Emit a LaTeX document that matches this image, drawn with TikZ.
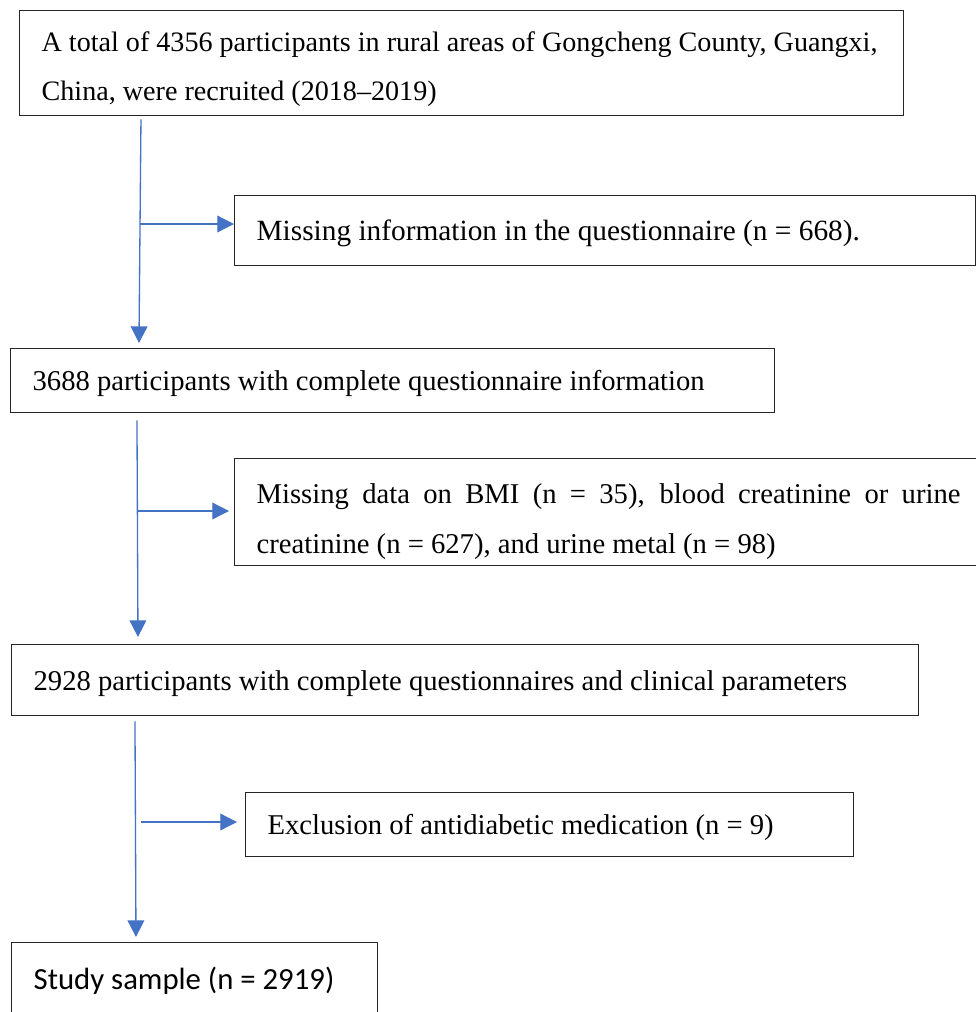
\documentclass[tikz,border=0pt]{standalone}
\usepackage{fontspec}
\setmainfont{Liberation Serif}
\newfontfamily\carlito{Carlito}
\usepackage{tikz}
\usetikzlibrary{arrows.meta}
\definecolor{wordblue}{HTML}{4472C4}
\tikzset{
	stepbox/.style={draw=black!85, line width=0.75pt, rectangle, anchor=north west, align=flush left, inner xsep=0.44cm, inner ysep=0pt, font=\fontsize{16.3}{28}\selectfont},
	onebox/.style={stepbox, text depth=0pt},
	flow/.style={draw=wordblue, line width=0.75pt, -{Triangle[length=9.5pt,width=9.5pt]}}
}

\begin{document}
\begin{tikzpicture}[x=0.02cm, y=-0.02cm]
		%%%%% START %%%%%
		\useasboundingbox[fill=white] (0, 0) rectangle (976, 1012);
		
		\node[stepbox, text width=16.8cm, minimum height=2.1cm, font=\fontsize{16}{28}\selectfont] (start) at (19, 10) {\rule{0pt}{18pt}A total of 4356 participants in rural areas of Gongcheng County, Guangxi,\\China, were recruited (2018--2019)};
		\node[onebox, text width=13.94cm, minimum height=1.4cm, font=\fontsize{16.7}{28}\selectfont] (qmissing) at (234, 195) {Missing information in the questionnaire (n = 668).};
		\node[onebox, text width=14.4cm, minimum height=1.28cm] (qcomplete) at (10, 348) {3688 participants with complete questionnaire information};
		\node[stepbox, text width=14.08cm, minimum height=2.14cm, align=justify] (missdata) at (234, 458) {\rule{0pt}{22pt}Missing data on BMI (n = 35), blood creatinine or urine\linebreak creatinine (n = 627), and urine metal (n = 98)};
		\node[onebox, text width=17.26cm, minimum height=1.42cm] (clinical) at (11, 644) {2928 participants with complete questionnaires and clinical parameters};
		\node[onebox, text width=11.28cm, minimum height=1.28cm] (antidiab) at (245, 792) {Exclusion of antidiabetic medication (n = 9)};
		\node[onebox, text width=6.44cm, minimum height=1.44cm, font=\carlito\fontsize{17.5}{21}\selectfont] (sample) at (11, 942) {Study sample (n = 2919)};
		
		\draw[flow] ([xshift=2.44cm, yshift=-0.06cm]start.south west) -- ([xshift=2.58cm, yshift=0.1cm]qcomplete.north west);
		\coordinate (j1) at (140, 224);
		\draw[flow] (j1) -- (j1 -| qmissing.west);
		
		\draw[flow] ([xshift=2.54cm, yshift=-0.14cm]qcomplete.south west) -- ([xshift=2.54cm, yshift=0.14cm]clinical.north west);
		\coordinate (j2) at (137, 511);
		\draw[flow, shorten >=0.1cm] (j2) -- (j2 -| missdata.west);
		
		\draw[flow] ([xshift=2.48cm, yshift=-0.1cm]clinical.south west) -- ([xshift=2.5cm, yshift=0.1cm]sample.north west);
		\coordinate (j3) at (141, 822);
		\draw[flow, shorten >=0.16cm] (j3) -- (j3 -| antidiab.west);
		%%%%% END %%%%%
\end{tikzpicture}
\end{document}
